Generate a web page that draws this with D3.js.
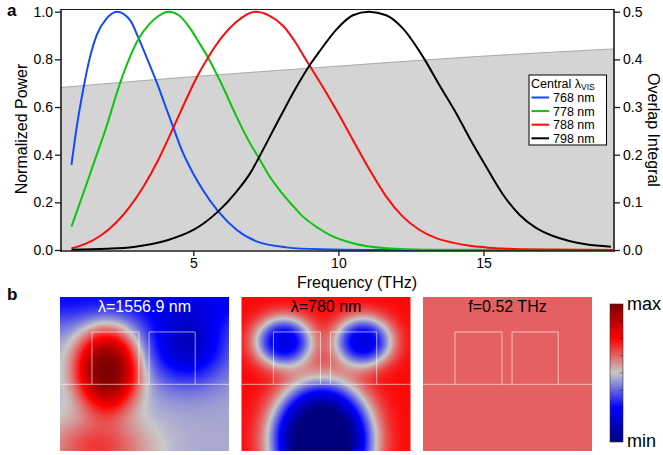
<!DOCTYPE html>
<html><head><meta charset="utf-8">
<script src="https://cdn.jsdelivr.net/npm/d3@7"></script>
<style>
html,body{margin:0;padding:0;background:#fff}
svg{display:block;font-family:"Liberation Sans",Arial,Helvetica,sans-serif}
</style>
</head><body>
<svg id="chart" width="663" height="455"></svg>
<script>
// ---------------- data (panel a) ----------------
const freqTicks = [5, 10, 15];
const powerTicks = [0, 0.2, 0.4, 0.6, 0.8, 1.0];
const overlapTicks = [0, 0.1, 0.2, 0.3, 0.4, 0.5];
const seriesLabels = ["768 nm", "778 nm", "788 nm", "798 nm"];
const seriesColors = ["#1149ff", "#0cc40c", "#ff0a0a", "#000000"];

const power768 = [[0.80,0.357],[1.0,0.53],[1.22,0.683],[1.42,0.80],[1.68,0.905],[2.0,0.97],[2.37,1.0],[2.82,0.965],[3.11,0.89],[3.45,0.79],[3.75,0.70],[4.05,0.60],[4.31,0.515],[4.6,0.42],[5.0,0.32],[5.34,0.25],[5.86,0.162],[6.49,0.085],[7.18,0.036],[8.21,0.011],[9.36,0.003],[11.0,0.0005],[19.45,0.0]];
const power778 = [[0.80,0.098],[1.2,0.235],[1.6,0.375],[2.0,0.515],[2.42,0.68],[2.75,0.79],[3.11,0.885],[3.5,0.95],[3.8,0.982],[4.15,1.0],[4.5,0.985],[4.89,0.93],[5.2,0.87],[5.52,0.805],[5.92,0.71],[6.49,0.56],[6.9,0.46],[7.24,0.39],[7.6,0.315],[7.98,0.25],[8.4,0.19],[8.78,0.14],[9.36,0.088],[9.7,0.063],[10.5,0.028],[11.65,0.007],[13.0,0.001],[19.45,0.0]];
const power788 = [[0.80,0.007],[1.3,0.027],[1.8,0.06],[2.3,0.11],[2.8,0.18],[3.3,0.27],[3.8,0.38],[4.3,0.51],[4.71,0.62],[5.12,0.725],[5.52,0.81],[6.0,0.895],[6.49,0.958],[7.13,1.0],[7.6,0.985],[8.1,0.94],[8.5,0.875],[8.9,0.795],[9.36,0.705],[9.93,0.587],[10.5,0.462],[11.08,0.336],[11.65,0.224],[12.22,0.14],[12.8,0.084],[13.37,0.05],[13.94,0.031],[14.52,0.018],[15.1,0.011],[15.66,0.006],[17.0,0.002],[19.45,0.0]];
const power798 = [[0.80,0.001],[2.0,0.005],[2.94,0.013],[4.08,0.04],[5.0,0.084],[5.34,0.11],[5.86,0.162],[6.49,0.245],[7.0,0.33],[7.27,0.39],[7.98,0.555],[8.56,0.685],[9.01,0.775],[9.36,0.835],[9.93,0.925],[10.5,0.985],[11.05,1.0],[11.65,0.985],[12.22,0.93],[12.97,0.8],[13.49,0.69],[14.06,0.574],[14.52,0.47],[15.09,0.35],[15.66,0.235],[16.24,0.148],[16.81,0.093],[17.38,0.06],[17.96,0.038],[18.53,0.024],[19.39,0.014]];
const overlapIntegral = [[0.44,0.341],[4.2,0.360],[9.36,0.383],[14.52,0.405],[19.5,0.422]];

// ---------------- data (panel b) ----------------
const mapTitles = ["λ=1556.9 nm", "λ=780 nm", "f=0.52 THz"];
const mapTitleColors = ["#ffffff", "#000000", "#000000"];
const mapBackground = [0.46, 0.74, 0.63];
// field lobes in normalised cross-section coordinates: [u, v, amplitude, width u, width v, flatness]
const lobes1556 = [[0.28,0.47,0.55,0.19,0.27,1.3],[0.22,0.98,0.22,0.30,0.20,1],[0.75,0.32,-0.32,0.24,0.24,1],[0.5,0.0,-0.20,100,0.20,1]];
const lobes780 = [[0.25,0.29,-0.54,0.173,0.163,1.3],[0.72,0.29,-0.54,0.173,0.163,1.3],[0.475,0.93,-0.85,0.30,0.38,1.6]];
const lobesTHz = [];
const waveguides = [[0.189,0.467],[0.527,0.80]];
const ridgeTop = 0.227, slabTop = 0.567;
const colorStops = [0, 0.25, 0.5, 0.75, 1];
const colorValues = ["#00007f", "#0000ff", "#c8c8c8", "#ff0000", "#7f0000"];

// ---------------- panel a ----------------
const svg = d3.select("#chart");
svg.append("rect").attr("width", 663).attr("height", 455).attr("fill", "#fff");

const x = d3.scaleLinear().domain([0.44, 19.5]).range([61, 614]);
const y = d3.scaleLinear().domain([0, 1]).range([250, 11.7]);
const yR = d3.scaleLinear().domain([0, 0.5]).range([250, 11.7]);

const gA = svg.append("g");
gA.append("path").datum(overlapIntegral)
  .attr("d", d3.area().x(d => x(d[0])).y0(yR(0)).y1(d => yR(d[1])).curve(d3.curveMonotoneX))
  .attr("fill", "#d4d4d4");
gA.append("path").datum(overlapIntegral)
  .attr("d", d3.line().x(d => x(d[0])).y(d => yR(d[1])).curve(d3.curveMonotoneX))
  .attr("fill", "none").attr("stroke", "#a9a9a9").attr("stroke-width", 1);

const allSeries = [power768, power778, power788, power798];
const line = d3.line().x(d => x(d[0])).y(d => y(d[1])).curve(d3.curveMonotoneX);
allSeries.forEach((s, i) => {
  gA.append("path").datum(s).attr("d", line)
    .attr("fill", "none").attr("stroke", seriesColors[i]).attr("stroke-width", 2);
});

// frame
const frame = gA.append("g").attr("stroke", "#1a1a1a").attr("fill", "none");
frame.append("line").attr("x1", 61).attr("x2", 614).attr("y1", 9.5).attr("y2", 9.5).attr("stroke-width", 1);
frame.append("line").attr("x1", 61).attr("x2", 61).attr("y1", 9).attr("y2", 251.8).attr("stroke-width", 1.6);
frame.append("line").attr("x1", 614).attr("x2", 614).attr("y1", 9).attr("y2", 251.8).attr("stroke-width", 1.6);
frame.append("line").attr("x1", 60.2).attr("x2", 614.8).attr("y1", 251).attr("y2", 251).attr("stroke-width", 1.6);

function styleAxis(g) {
  g.select(".domain").remove();
  g.selectAll(".tick line").attr("stroke", "#1a1a1a").attr("stroke-width", 1.3);
  g.selectAll(".tick text").attr("fill", "#000").style("font-size", "14px")
    .style("font-family", '"Liberation Sans",Arial,sans-serif');
}
gA.append("g").attr("transform", "translate(61,0)")
  .call(d3.axisLeft(y).tickValues(powerTicks).tickFormat(d3.format(".1f")).tickSize(6).tickPadding(2))
  .call(styleAxis);
gA.append("g").attr("transform", "translate(614,0)")
  .call(d3.axisRight(yR).tickValues(overlapTicks).tickFormat(d3.format(".1f")).tickSize(6).tickPadding(3))
  .call(styleAxis);
gA.append("g").attr("transform", "translate(0,251)")
  .call(d3.axisBottom(x).tickValues(freqTicks).tickFormat(d3.format("d")).tickSize(5).tickPadding(2.5))
  .call(styleAxis);

gA.append("text").attr("transform", "translate(27,129) rotate(-90)").attr("text-anchor", "middle")
  .style("font-size", "16px").text("Normalized Power");
gA.append("text").attr("transform", "translate(648,130) rotate(90)").attr("text-anchor", "middle")
  .style("font-size", "16px").text("Overlap Integral");
gA.append("text").attr("x", 357).attr("y", 287.5).attr("text-anchor", "middle")
  .style("font-size", "16px").text("Frequency (THz)");

// legend
const lg = gA.append("g");
lg.append("rect").attr("x", 529).attr("y", 75).attr("width", 77.5).attr("height", 70)
  .attr("fill", "#fff").attr("stroke", "#000").attr("stroke-width", 1);
const lt = lg.append("text").attr("x", 531).attr("y", 87.5).style("font-size", "12.5px");
lt.append("tspan").text("Central λ");
lt.append("tspan").attr("dy", 2.5).style("font-size", "8.5px").text("VIS");
seriesLabels.forEach((lab, i) => {
  const yy = 97.5 + i * 13.6;
  lg.append("line").attr("x1", 531.5).attr("x2", 549).attr("y1", yy).attr("y2", yy)
    .attr("stroke", seriesColors[i]).attr("stroke-width", 2);
  lg.append("text").attr("x", 553).attr("y", yy + 4.5).style("font-size", "12.5px").text(lab);
});

svg.append("text").attr("x", 7).attr("y", 15.5).style("font-size", "17px").style("font-weight", "bold").text("a");
svg.append("text").attr("x", 7).attr("y", 300).style("font-size", "17px").style("font-weight", "bold").text("b");

// ---------------- panel b ----------------
const cmap = d3.scaleLinear().domain(colorStops).range(colorValues).interpolate(d3.interpolateRgb).clamp(true);
const panelLefts = [60, 241.5, 423];
const panelW = 169, panelH = 154, panelTop = 297;
const allLobes = [lobes1556, lobes780, lobesTHz];

function fieldImage(lobes, base, w, h) {
  const c = document.createElement("canvas");
  c.width = w; c.height = h;
  const ctx = c.getContext("2d");
  const img = ctx.createImageData(w, h);
  for (let j = 0; j < h; j++) {
    for (let i = 0; i < w; i++) {
      const u = (i + 0.5) / w, v = (j + 0.5) / h;
      let val = base;
      for (const L of lobes) {
        const du = (u - L[0]) / L[3], dv = (v - L[1]) / L[4];
        val += L[2] * Math.exp(-Math.pow(du * du + dv * dv, L[5]));
      }
      const col = d3.rgb(cmap(Math.max(0, Math.min(1, val))));
      const k = (j * w + i) * 4;
      img.data[k] = col.r; img.data[k + 1] = col.g; img.data[k + 2] = col.b; img.data[k + 3] = 255;
    }
  }
  ctx.putImageData(img, 0, 0);
  return c.toDataURL();
}

const gB = svg.append("g");
panelLefts.forEach((left, p) => {
  const fu = d3.scaleLinear().domain([0, 1]).range([left, left + panelW]);
  const fv = d3.scaleLinear().domain([0, 1]).range([panelTop, panelTop + panelH]);
  gB.append("image").attr("x", fu(0)).attr("y", fv(0)).attr("width", panelW).attr("height", panelH)
    .attr("preserveAspectRatio", "none")
    .attr("href", fieldImage(allLobes[p], mapBackground[p], panelW, panelH));
  const st = gB.append("g").attr("stroke", "#fff").attr("stroke-opacity", 0.6).attr("stroke-width", 1).attr("fill", "none");
  st.append("line").attr("x1", fu(0)).attr("x2", fu(1)).attr("y1", fv(slabTop)).attr("y2", fv(slabTop));
  waveguides.forEach(w => {
    st.append("path").attr("d", `M${fu(w[0])},${fv(slabTop)}V${fv(ridgeTop)}H${fu(w[1])}V${fv(slabTop)}`);
  });
  gB.append("text").attr("x", fu(0.5)).attr("y", 311.5).attr("text-anchor", "middle")
    .style("font-size", "16px").attr("fill", mapTitleColors[p]).text(mapTitles[p]);
});

// colorbar
const defs = svg.append("defs");
const grad = defs.append("linearGradient").attr("id", "cbar").attr("x1", 0).attr("x2", 0).attr("y1", 1).attr("y2", 0);
colorStops.forEach((s, i) => grad.append("stop").attr("offset", s).attr("stop-color", colorValues[i]));
const cb = d3.scaleLinear().domain([0, 1]).range([442, 304]);
gB.append("rect").attr("x", 610).attr("y", cb(1)).attr("width", 13).attr("height", cb(0) - cb(1))
  .attr("fill", "url(#cbar)").attr("stroke", "#333").attr("stroke-width", 0.6);
d3.range(1, 8).forEach(k => {
  gB.append("line").attr("x1", 619.5).attr("x2", 623).attr("y1", cb(k / 8)).attr("y2", cb(k / 8))
    .attr("stroke", "#000").attr("stroke-opacity", 0.45).attr("stroke-width", 1);
});
gB.append("text").attr("x", 627).attr("y", 309.5).style("font-size", "18px").text("max");
gB.append("text").attr("x", 627).attr("y", 446.5).style("font-size", "18px").text("min");
</script>
</body></html>
